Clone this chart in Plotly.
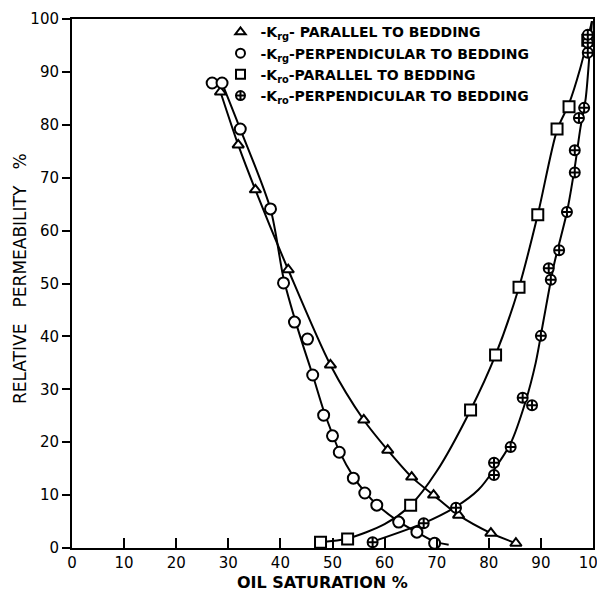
import plotly.graph_objects as go

# Krg - parallel to bedding (triangles)
krg_par_x = [28.5, 31.9, 35.2, 41.5, 49.6, 56.0, 60.6, 65.2, 69.4, 74.2, 80.4, 85.2]
krg_par_y = [86.2, 76.2, 67.7, 52.6, 34.6, 24.2, 18.5, 13.4, 10.0, 6.2, 2.8, 0.9]

# Krg - perpendicular to bedding (circles)
krg_perp_x = [26.9, 28.8, 32.3, 38.1, 40.6, 42.7, 45.2, 46.2, 48.3, 50.0, 51.3, 54.0,
              56.2, 58.5, 62.7, 66.2, 69.6]
krg_perp_y = [87.9, 87.9, 79.2, 64.1, 50.1, 42.7, 39.5, 32.7, 25.1, 21.2, 18.1, 13.2,
              10.4, 8.1, 4.9, 3.0, 0.9]

# Kro - parallel to bedding (squares)
kro_par_x = [47.7, 52.9, 65.0, 76.5, 81.3, 85.8, 89.4, 93.1, 95.4, 99.0]
kro_par_y = [1.1, 1.7, 8.1, 26.1, 36.5, 49.3, 63.0, 79.2, 83.4, 96.0]

# Kro - perpendicular to bedding (crossed circles)
kro_perp_x = [57.7, 67.5, 73.7, 81.0, 81.0, 84.2, 86.5, 88.3, 90.0, 91.9, 91.5, 93.5,
              95.0, 96.5, 96.5, 97.3, 98.3, 99.0, 99.0, 99.0]
kro_perp_y = [1.1, 4.7, 7.6, 13.8, 16.1, 19.1, 28.4, 27.0, 40.1, 50.7, 52.9, 56.3,
              63.5, 71.0, 75.2, 81.3, 83.2, 93.6, 95.5, 97.0]

# Hand-drawn smooth curves, read along their path in the picture
krg_par_curve_x = [28.5, 31.9, 35.2, 41.5, 49.6, 56.0, 60.6, 65.2, 69.4, 74.2, 80.4, 85.2]
krg_par_curve_y = [86.2, 76.2, 67.7, 52.6, 34.6, 24.2, 18.5, 13.4, 10.0, 6.2, 2.8, 0.9]
krg_perp_curve_x = [28.8, 32.3, 38.1, 40.6, 42.7, 44.6, 46.2, 48.3, 50.0, 51.3, 54.0,
                    56.2, 58.5, 62.7, 66.2, 69.6, 72.3]
krg_perp_curve_y = [87.9, 79.2, 64.1, 51.0, 43.5, 37.5, 32.7, 26.0, 21.5, 18.3, 13.5,
                    10.6, 8.2, 5.0, 3.0, 1.2, 0.6]
kro_par_curve_x = [47.7, 52.9, 60.0, 65.0, 70.0, 76.5, 81.3, 85.8, 89.4, 93.1, 95.4, 97.5, 99.8]
kro_par_curve_y = [1.1, 1.8, 4.5, 8.1, 14.5, 26.1, 36.5, 49.3, 63.0, 79.0, 84.0, 90.5, 99.6]
kro_perp_curve_x = [57.7, 67.5, 73.7, 78.0, 81.0, 84.2, 87.0, 89.0, 90.5, 92.5, 95.0, 96.5,
                    97.6, 98.6, 99.3, 99.8]
kro_perp_curve_y = [1.2, 4.7, 7.8, 11.0, 14.8, 19.8, 27.5, 35.0, 43.0, 53.5, 63.5, 72.0,
                    79.5, 85.0, 93.0, 99.6]

x_ticks = [0, 10, 20, 30, 40, 50, 60, 70, 80, 90, 100]
y_ticks = [0, 10, 20, 30, 40, 50, 60, 70, 80, 90, 100]

series = [
    (krg_par_x, krg_par_y, krg_par_curve_x, krg_par_curve_y,
     "triangle-up", "-K<sub>rg</sub>- PARALLEL TO BEDDING", 10),
    (krg_perp_x, krg_perp_y, krg_perp_curve_x, krg_perp_curve_y,
     "circle", "-K<sub>rg</sub>-PERPENDICULAR TO BEDDING", 11),
    (kro_par_x, kro_par_y, kro_par_curve_x, kro_par_curve_y,
     "square", "-K<sub>ro</sub>-PARALLEL TO BEDDING", 11),
    (kro_perp_x, kro_perp_y, kro_perp_curve_x, kro_perp_curve_y,
     "circle-cross", "-K<sub>ro</sub>-PERPENDICULAR TO BEDDING", 10),
]

FONT = "DejaVu Sans"
fig = go.Figure()
for xs, ys, cx, cy, sym, name, sz in series:
    fig.add_trace(go.Scatter(
        x=cx, y=cy, mode="lines", showlegend=False, hoverinfo="skip",
        line=dict(color="black", width=2, shape="spline", smoothing=0.8),
    ))
for xs, ys, cx, cy, sym, name, sz in series:
    fig.add_trace(go.Scatter(
        x=xs, y=ys, mode="markers", showlegend=False,
        marker=dict(symbol=sym, size=sz, color="white", line=dict(width=2, color="black")),
    ))
for xs, ys, cx, cy, sym, name, sz in series:
    fig.add_trace(go.Scatter(
        x=[None], y=[None], mode="markers", name=name, showlegend=True,
        marker=dict(symbol=sym, size=9, color="white", line=dict(width=2, color="black")),
    ))

# the page body adds an 8px offset, so the margins are shifted to compensate
fig.update_layout(
    width=605, height=607,
    margin=dict(l=64, r=20, t=11, b=67, autoexpand=False),
    paper_bgcolor="white", plot_bgcolor="white",
    font=dict(family=FONT, color="black", size=14),
    legend=dict(x=0.285, y=1.005, xanchor="left", yanchor="top",
                bgcolor="rgba(0,0,0,0)", font=dict(size=14, family=FONT, weight="bold"),
                itemwidth=30, tracegroupgap=0),
    xaxis=dict(range=[0, 100], tickvals=x_ticks, ticktext=[str(v) for v in x_ticks],
               ticks="inside", ticklen=10, tickwidth=2, tickcolor="black",
               showline=True, linewidth=2, linecolor="black", mirror=True,
               showgrid=False, zeroline=False, ticklabeloverflow="allow",
               automargin=False, tickfont=dict(size=15, family=FONT)),
    yaxis=dict(range=[0, 100], tickvals=y_ticks, ticktext=[str(v) for v in y_ticks],
               ticks="outside", ticklen=8, tickwidth=2, tickcolor="black",
               showline=True, linewidth=2, linecolor="black", mirror=True,
               showgrid=False, zeroline=False, ticklabeloverflow="allow",
               automargin=False, tickfont=dict(size=15, family=FONT)),
    annotations=[
        dict(text="<b>OIL SATURATION %</b>", xref="paper", yref="paper",
             x=0.48, y=-0.066, xanchor="center", yanchor="middle", showarrow=False,
             font=dict(size=16, family=FONT)),
        dict(text="RELATIVE\u00a0\u00a0\u00a0PERMEABILITY\u00a0\u00a0\u00a0%",
             xref="paper", yref="paper", x=-0.1, y=0.51, textangle=-90,
             xanchor="center", yanchor="middle", showarrow=False,
             font=dict(size=17, family=FONT)),
    ],
)

fig.write_html("out.html")
